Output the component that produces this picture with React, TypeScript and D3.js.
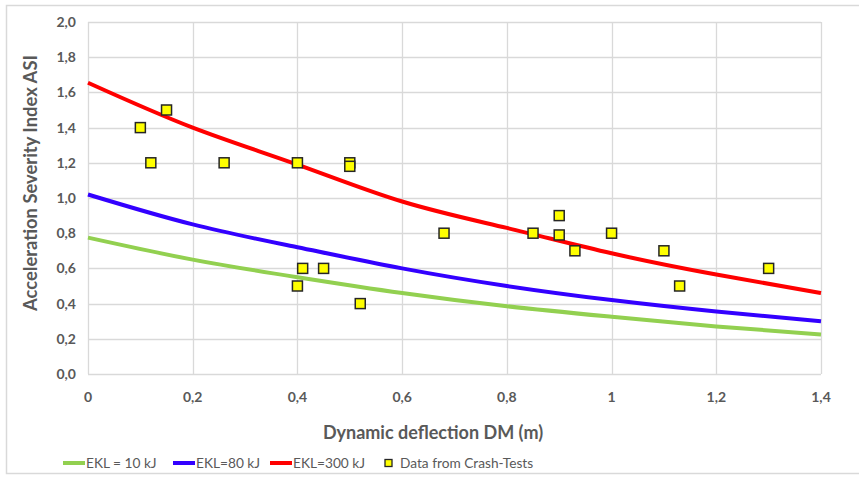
import React, { useEffect, useRef } from 'react';
import * as d3 from 'd3';

// curve values read at DM = 0, 0.2 ... 1.4
const curveX = [0, 0.2, 0.4, 0.6, 0.8, 1.0, 1.2, 1.4];
const ekl10 = [0.775, 0.65, 0.55, 0.46, 0.385, 0.325, 0.27, 0.225];
const ekl80 = [1.02, 0.85, 0.72, 0.6, 0.5, 0.42, 0.355, 0.3];
const ekl300 = [1.655, 1.4, 1.19, 0.98, 0.83, 0.686, 0.565, 0.46];

// crash test points
const testDM = [0.1, 0.12, 0.15, 0.26, 0.4, 0.5, 0.5, 0.4, 0.41, 0.45, 0.52, 0.68, 0.85, 0.9, 0.9, 0.93, 1.0, 1.1, 1.13, 1.3];
const testASI = [1.4, 1.2, 1.5, 1.2, 1.2, 1.2, 1.18, 0.5, 0.6, 0.6, 0.4, 0.8, 0.8, 0.9, 0.79, 0.7, 0.8, 0.7, 0.5, 0.6];

const xTicks = [0, 0.2, 0.4, 0.6, 0.8, 1, 1.2, 1.4];
const yTicks = [0, 0.2, 0.4, 0.6, 0.8, 1.0, 1.2, 1.4, 1.6, 1.8, 2.0];

const seriesNames = ['EKL = 10 kJ', 'EKL=80 kJ', 'EKL=300 kJ'];
const seriesColors = ['#92D050', '#3300FF', '#FF0000'];

const App = () => {
  const chartRef = useRef<SVGSVGElement>(null);

  useEffect(() => {
    drawChart();
  }, []);

  const drawChart = () => {
    const width = 859, height = 479;
    const margin = { top: 22, right: 38, bottom: 105, left: 88 };
    const font = "Lato, 'Open Sans', sans-serif";
    const grey = '#595959';

    const svg = d3.select(chartRef.current);
    svg.selectAll('*').remove();

    // outer frame
    svg.append('rect')
      .attr('x', 6.5).attr('y', 5.5)
      .attr('width', 860).attr('height', 468)
      .style('fill', 'white')
      .style('stroke', '#D9D9D9')
      .style('stroke-width', 1.5);

    const x = d3.scaleLinear().domain([0, 1.4]).range([margin.left, width - margin.right]);
    const y = d3.scaleLinear().domain([0, 2]).range([height - margin.bottom, margin.top]);

    // gridlines
    svg.append('g').selectAll('line').data(yTicks).join('line')
      .attr('x1', x(0)).attr('x2', x(1.4))
      .attr('y1', d => Math.round(y(d)) + 0.5).attr('y2', d => Math.round(y(d)) + 0.5)
      .style('stroke', '#D9D9D9').style('stroke-width', 1.3);
    svg.append('g').selectAll('line').data(xTicks).join('line')
      .attr('x1', d => Math.round(x(d)) + 0.5).attr('x2', d => Math.round(x(d)) + 0.5)
      .attr('y1', y(0)).attr('y2', y(2))
      .style('stroke', '#D9D9D9').style('stroke-width', 1.3);

    // tick labels
    svg.append('g').selectAll('text').data(yTicks).join('text')
      .attr('x', 76).attr('y', d => y(d) + 5)
      .attr('text-anchor', 'end')
      .style('font-family', font).style('font-weight', 'bold')
      .style('font-size', '14px').style('fill', grey)
      .text(d => d3.format('.1f')(d).replace('.', ','));
    svg.append('g').selectAll('text').data(xTicks).join('text')
      .attr('x', d => x(d)).attr('y', 402)
      .attr('text-anchor', 'middle')
      .style('font-family', font).style('font-weight', 'bold')
      .style('font-size', '14px').style('fill', grey)
      .text(d => (d === 0 || d === 1 ? String(d) : d3.format('.1f')(d).replace('.', ',')));

    // axis titles
    svg.append('text')
      .attr('x', 433).attr('y', 439)
      .attr('text-anchor', 'middle')
      .style('font-family', font).style('font-weight', 'bold')
      .style('font-size', '18px').style('fill', grey)
      .text('Dynamic deflection DM (m)');
    svg.append('text')
      .attr('transform', `translate(37, 183) rotate(-90)`)
      .attr('text-anchor', 'middle')
      .style('font-family', font).style('font-weight', 'bold')
      .style('font-size', '18.4px').style('fill', grey)
      .text('Acceleration Severity Index ASI');

    // curves
    const line = d3.line<number>()
      .x((d, i) => x(curveX[i]))
      .y(d => y(d))
      .curve(d3.curveNatural);
    [ekl10, ekl80, ekl300].forEach((vals, i) => {
      svg.append('path')
        .attr('d', line(vals))
        .style('fill', 'none')
        .style('stroke', seriesColors[i])
        .style('stroke-width', 4);
    });

    // crash test markers
    svg.append('g').selectAll('rect').data(testDM).join('rect')
      .attr('x', d => x(d) - 5)
      .attr('y', (d, i) => y(testASI[i]) - 5)
      .attr('width', 10).attr('height', 10)
      .style('fill', '#FFFF00')
      .style('stroke', '#262626')
      .style('stroke-width', 1.5);

    // legend
    const legendY = 463;
    const legendLines = [63, 173, 270];
    seriesNames.forEach((name, i) => {
      svg.append('line')
        .attr('x1', legendLines[i]).attr('x2', legendLines[i] + 22)
        .attr('y1', legendY).attr('y2', legendY)
        .style('stroke', seriesColors[i]).style('stroke-width', 4);
      svg.append('text')
        .attr('x', legendLines[i] + 23).attr('y', legendY + 5)
        .style('font-family', font).style('font-size', '13.7px').style('fill', grey)
        .text(name);
    });
    svg.append('rect')
      .attr('x', 385).attr('y', legendY - 3.5)
      .attr('width', 7).attr('height', 7)
      .style('fill', '#FFFF00').style('stroke', '#262626').style('stroke-width', 1.3);
    svg.append('text')
      .attr('x', 400).attr('y', legendY + 5)
      .style('font-family', font).style('font-size', '13.7px').style('fill', grey)
      .text('Data from Crash-Tests');
  };

  return (
    <svg ref={chartRef} width={859} height={479}
      style={{ position: 'absolute', left: 0, top: 0, background: 'white' }} />
  );
};

export default App;
